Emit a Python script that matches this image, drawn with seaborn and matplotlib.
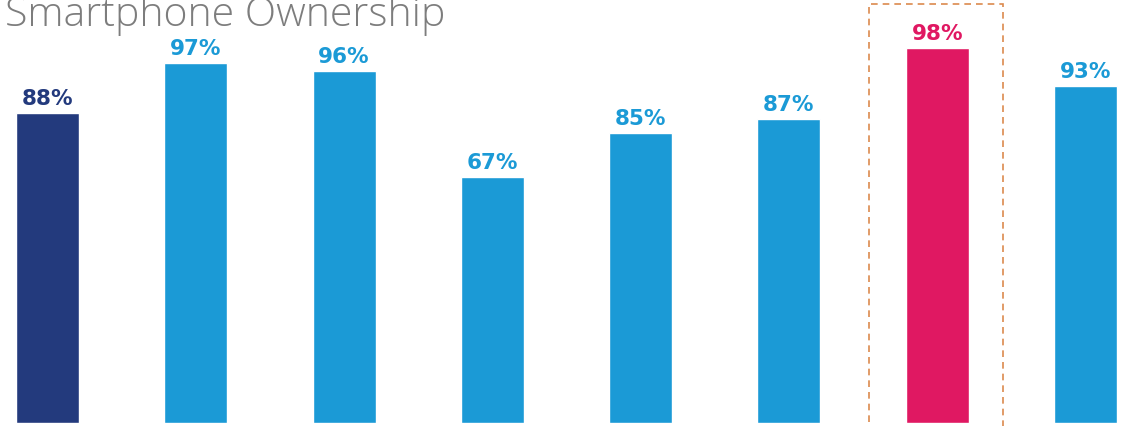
import matplotlib
matplotlib.use("Agg")
import matplotlib.pyplot as plt
from matplotlib.patches import Rectangle
import seaborn as sns
import pandas as pd

# Data
categories = ["A", "B", "C", "D", "E", "F", "G", "H"]
labels = ["88%", "97%", "96%", "67%", "85%", "87%", "98%", "93%"]
# bar heights as drawn in the picture (pixel-scale units)
bar_heights = [310, 360, 352, 246, 290, 304, 375, 337]
groups = ["base", "other", "other", "other", "other", "other", "focus", "other"]
title = "Smartphone Ownership"

palette = {"base": "#233a7d", "other": "#1b9ad6", "focus": "#e01862"}

df = pd.DataFrame({"cat": categories, "h": bar_heights, "grp": groups, "lab": labels})

sns.set_theme(style="white")
plt.rcParams["font.family"] = ["DejaVu Sans"]

W, H = 1138, 426
fig = plt.figure(figsize=(W / 100, H / 100), dpi=100)
ax = fig.add_axes([0, 3 / H, 1, 423 / H])

sns.barplot(data=df, x="cat", y="h", hue="grp", palette=palette, dodge=False,
            width=0.425, legend=False, ax=ax, saturation=1)

step = 148.29
ax.set_xlim(-47.5 / step, 7 + (W - 1085.5) / step)
ax.set_ylim(0, 423)
ax.axis("off")

for i, (h, lab, g) in enumerate(zip(bar_heights, labels, groups)):
    ax.annotate(lab, (i, h), xytext=(0, 4), textcoords="offset pixels",
                ha="center", va="bottom", fontsize=15.5, fontweight="bold",
                family="DejaVu Sans", color=palette[g])

# dashed highlight box around focus bar
fi = groups.index("focus")
rect = Rectangle((fi - 0.457, -10), 0.904, 429, fill=False, ls=(0, (4, 3)),
                 lw=1.2, ec="#dc8a4e", clip_on=False)
ax.add_patch(rect)

fig.text(5 / W, 1 - 26 / H, title, fontsize=29.5, fontweight="light",
         family=["Open Sans", "DejaVu Sans"],
         color="#7d7d7d", ha="left", va="baseline")

fig.savefig("out.png", dpi=100)
